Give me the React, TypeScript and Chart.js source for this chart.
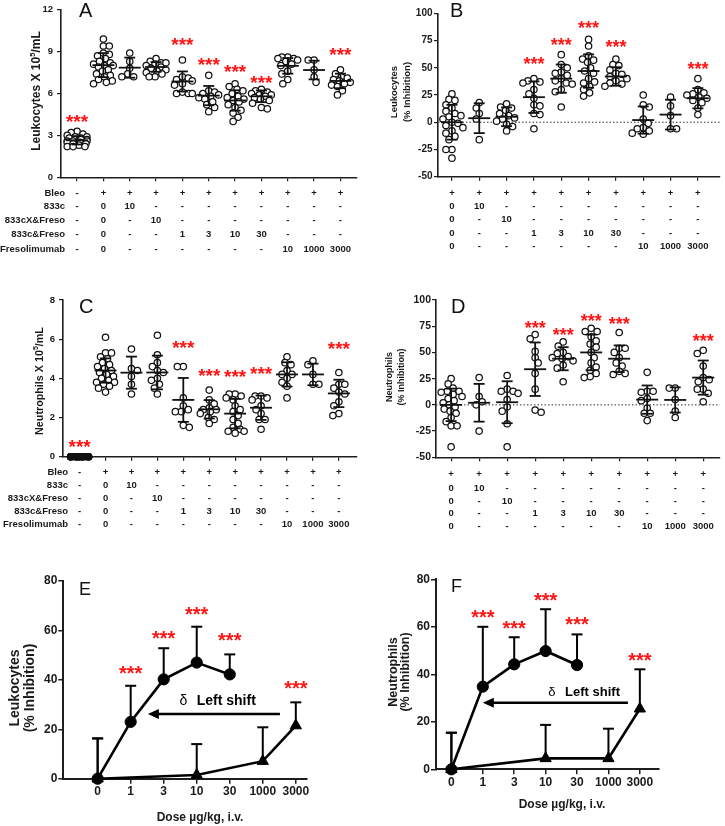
import React, { useEffect, useRef } from 'react';
import { Chart, registerables } from 'chart.js';

Chart.register(...registerables);

const FAMILY = 'Arial, "Liberation Sans", Helvetica, sans-serif';

// ---------------- DATA ----------------
// Table rows under panels A-D (first column = saline, no bleomycin)
const rowNames = ['Bleo', '833c', '833cX&Freso', '833c&Freso', 'Fresolimumab'];
const rowBleo = ['-', '+', '+', '+', '+', '+', '+', '+', '+', '+', '+'];
const row833c = ['-', '0', '10', '-', '-', '-', '-', '-', '-', '-', '-'];
const row833cX = ['-', '0', '-', '10', '-', '-', '-', '-', '-', '-', '-'];
const row833cFreso = ['-', '0', '-', '-', '1', '3', '10', '30', '-', '-', '-'];
const rowFreso = ['-', '0', '-', '-', '-', '-', '-', '-', '10', '1000', '3000'];

// Panel A: Leukocytes x10^5/mL
const leukCount: number[][] = [
  [3.3, 3.2, 3.1, 3.0, 2.9, 2.9, 2.8, 2.8, 2.7, 2.7, 2.7, 2.6, 2.6, 2.6, 2.5, 2.5, 2.4, 2.4, 2.3, 2.2, 2.2, 2.2],
  [9.9, 9.4, 9.4, 8.9, 8.8, 8.7, 8.5, 8.3, 8.2, 8.1, 8.0, 8.0, 7.9, 7.7, 7.6, 7.4, 7.3, 7.2, 7.0, 6.9, 6.8, 6.7],
  [8.9, 8.3, 7.8, 7.4, 7.2, 7.2],
  [8.5, 8.3, 8.2, 8.2, 8.1, 8.0, 7.9, 7.8, 7.7, 7.6, 7.5, 7.4, 7.2, 7.2],
  [8.4, 7.2, 7.1, 7.0, 6.9, 6.7, 6.6, 6.1, 6.0, 6.0, 6.0],
  [7.3, 6.2, 6.1, 6.0, 5.9, 5.8, 5.7, 5.6, 5.4, 5.2, 5.0, 4.7],
  [6.7, 6.5, 6.3, 6.2, 6.0, 5.8, 5.7, 5.6, 5.5, 5.4, 5.2, 5.0, 4.8, 4.6, 4.3, 4.0],
  [6.3, 6.2, 6.1, 6.0, 5.9, 5.9, 5.8, 5.7, 5.6, 5.5, 5.3, 5.0, 4.9],
  [8.6, 8.6, 8.5, 8.5, 8.4, 8.3, 8.1, 8.0, 7.6, 7.4, 7.0, 6.7],
  [8.4, 8.4, 7.7, 7.2, 6.8],
  [7.7, 7.4, 7.2, 7.1, 7.0, 6.9, 6.8, 6.7, 6.6, 6.5, 6.2, 5.9],
];
const leukCountMean = [2.65, 8.03, 7.85, 7.9, 6.86, 5.85, 5.5, 5.8, 7.98, 7.68, 6.9];
const leukCountSd = [0.3, 0.86, 0.72, 0.35, 0.72, 0.69, 0.73, 0.42, 0.56, 0.67, 0.52];
const leukCountStars: (number | null)[] = [4.2, null, null, null, 9.7, 8.3, 7.8, 7.0, null, null, 9.0];

// Panel B: Leukocytes % inhibition
const leukInhib: number[][] = [
  [26, 21, 20, 16, 13, 10, 8, 6, 5, 3, 0, -1, -3, -5, -8, -10, -13, -16, -25, -25, -33],
  [18, 13, 8, 3, -16],
  [17, 14, 13, 11, 8, 6, 4, 3, 1, -2, -4, -8],
  [40, 38, 37, 36, 30, 26, 22, 16, 15, 8, 7, -6],
  [62, 53, 50, 46, 45, 43, 40, 38, 36, 35, 30, 28, 14],
  [76, 70, 61, 58, 57, 55, 50, 47, 45, 40, 37, 36, 33, 30, 27, 24],
  [58, 53, 52, 48, 45, 44, 42, 40, 38, 36, 35, 33],
  [25, 16, 14, 3, -1, -5, -6, -8, -10, -11],
  [23, 15, 6, -6, -6],
  [40, 30, 27, 26, 25, 23, 22, 20, 18, 13, 7],
];
const leukInhibMean = [0, 3.7, 5, 23, 40, 47, 42, 2, 7, 22];
const leukInhibSd = [16, 13.7, 8.6, 14.5, 13, 15.3, 8.5, 12.5, 13.7, 9.3];
const leukInhibStars: (number | null)[] = [null, null, null, 56.5, 74, 90, 72, null, null, 52.5];

// Panel C: Neutrophils x10^5/mL
const neutCount: number[][] = [
  [0, 0, 0, 0, 0, 0, 0, 0, 0, 0, 0, 0, 0, 0, 0, 0, 0, 0, 0, 0],
  [6.1, 5.3, 5.3, 5.1, 5.0, 4.8, 4.7, 4.6, 4.5, 4.4, 4.3, 4.2, 4.1, 4.0, 3.9, 3.8, 3.8, 3.7, 3.6, 3.5, 3.3],
  [5.5, 4.5, 4.4, 4.1, 3.7, 3.2],
  [6.2, 5.2, 4.8, 4.6, 4.4, 4.3, 4.0, 3.9, 3.7, 3.5, 3.2],
  [4.6, 4.6, 3.0, 2.6, 2.4, 2.3, 2.3, 1.6, 1.5],
  [3.4, 2.9, 2.7, 2.5, 2.4, 2.4, 2.3, 2.2, 2.0, 1.9, 1.7],
  [3.2, 3.2, 3.1, 3.0, 2.9, 2.6, 2.4, 2.3, 2.1, 1.9, 1.7, 1.5, 1.4, 1.3, 1.3, 1.2],
  [3.1, 3.1, 3.0, 2.9, 2.6, 2.4, 2.2, 1.9, 1.9, 1.4],
  [5.1, 4.8, 4.7, 4.4, 4.2, 4.2, 4.0, 3.8, 3.6, 3.0],
  [4.9, 4.7, 4.2, 3.7, 3.7],
  [4.3, 3.7, 3.7, 3.5, 3.3, 3.2, 2.8, 2.6, 2.2, 2.1],
];
const neutCountMean = [0, 4.4, 4.29, 4.3, 2.9, 2.42, 2.2, 2.5, 4.2, 4.2, 3.23];
const neutCountSd = [0, 0.62, 0.82, 0.86, 1.12, 0.47, 0.75, 0.62, 0.62, 0.55, 0.7];
const neutCountStars: (number | null)[] = [0.68, null, null, null, 5.74, 4.29, 4.25, 4.4, null, null, 5.7];

// Panel D: Neutrophils % inhibition
const neutInhib: number[][] = [
  [25, 20, 16, 13, 13, 12, 10, 8, 6, 4, 2, 0, -2, -4, -6, -8, -12, -16, -20, -20, -40],
  [26, 8, 3, 0, -25],
  [28, 15, 13, 13, 11, 5, -2, -6, -18, -40],
  [67, 63, 51, 45, 40, 30, 15, -5, -7],
  [60, 56, 50, 49, 46, 45, 44, 42, 38, 35, 22],
  [73, 70, 70, 65, 61, 58, 55, 50, 45, 40, 36, 33, 30, 27, 26],
  [69, 54, 54, 50, 45, 40, 37, 32, 30, 29],
  [31, 13, 13, 12, 6, 4, -3, -8, -8, -15],
  [16, 16, 5, -6, -12],
  [52, 49, 37, 26, 24, 22, 15, 15, 11, 3],
];
const neutInhibMean = [0, 2, 2.5, 34, 44, 50, 44, 5, 4.7, 26];
const neutInhibSd = [15.5, 18, 20, 25.5, 11, 17, 12.7, 13.5, 12, 16.3];
const neutInhibStars: (number | null)[] = [null, null, null, 77, 70.4, 83.5, 80, null, null, 64.4];

// Panels E/F: dose response
const doseLabels = ['0', '1', '3', '10', '30', '1000', '3000'];
const comboDoses = ['0', '1', '3', '10', '30'];
const fresoDoses = ['0', '10', '1000', '3000'];
const starDoses = ['1', '3', '10', '30', '3000'];
const leukComboMean = [0, 23, 40.2, 47, 42.2];
const leukComboSd = [16.3, 14.6, 12.6, 14.5, 8.1];
const leukFresoMean = [0, 1.5, 7.1, 21.5];
const leukFresoSd = [16.3, 12.5, 13.7, 9.4];
const leukDoseStars = [44, 58.2, 68, 57.2, 37.9];
const neutComboMean = [0, 34.8, 44.2, 49.8, 43.9];
const neutComboSd = [15.4, 25.2, 11.4, 17.6, 12.9];
const neutFresoMean = [0, 4.6, 4.6, 25.5];
const neutFresoSd = [15.4, 14.1, 12.5, 16.6];
const neutDoseStars = [65.3, 60.8, 72.7, 62.6, 47.2];

// ---------------- TYPES ----------------
type Rect = { left: number; top: number; width: number; height: number };
type Area = { left: number; right: number; top: number; bottom: number };
type Seg = { t: string; sup?: boolean };
type TitleSpec = { lines: { x: number; segs: Seg[] }[]; y: number; size: number };

interface DotPanel {
  rect: Rect; area: Area;
  xMin: number; xMax: number; yMin: number; yMax: number; yStep: number;
  tickSize: number; tickPad: number;
  groups: number[][]; means: number[]; sds: number[]; stars: (number | null)[]; starSize: number;
  letter: string; letterX: number; letterY: number; letterSize: number;
  title: TitleSpec;
  cells: string[][]; headers: string[] | null; rowYs: number[]; headerRight: number; tableSize: number;
  zeroLine: boolean; maxHalf: number; fillZero: boolean;
}

interface Series { doses: string[]; means: number[]; sds: number[]; style: 'circle' | 'triangle' }
interface LinePanel {
  rect: Rect; area: Area; xMin: number; xMax: number; yMax: number; yStep: number;
  tickSize: number; series: Series[]; stars: number[]; starSize: number;
  arrow: { from: number; to: number; y: number }; delta: { x: number; y: number }; shift: { x: number; y: number }; shiftSize: number;
  letter: string; letterX: number; letterY: number; letterSize: number;
  title: TitleSpec; xTitle: { text: string; x: number; y: number; size: number };
}

// ---------------- HELPERS ----------------
function swarm(vals: number[], pxY: number, dot: number, maxHalf: number): number[] {
  const idx = vals.map((_, i) => i).sort((a, b) => vals[b] - vals[a]);
  const placed: { x: number; y: number }[] = [];
  const out = new Array(vals.length).fill(0);
  idx.forEach((i, n) => {
    const y = vals[i] * pxY;
    const cands: number[] = [0];
    for (let s = 1; s <= maxHalf; s++) n % 2 ? cands.push(-s, s) : cands.push(s, -s);
    let best = 0, bestScore = Infinity;
    for (const c of cands) {
      let ov = 0;
      for (const q of placed) {
        const d = Math.hypot(q.x - c, q.y - y);
        if (d < dot) ov += dot - d;
      }
      const score = ov * 40 + Math.abs(c);
      if (score < bestScore) { bestScore = score; best = c; }
      if (ov === 0) break;
    }
    placed.push({ x: best, y });
    out[i] = best;
  });
  return out;
}

function drawRich(ctx: CanvasRenderingContext2D, segs: Seg[], x: number, y: number, size: number, rotate: boolean) {
  ctx.save();
  ctx.translate(x, y);
  if (rotate) ctx.rotate(-Math.PI / 2);
  ctx.fillStyle = '#1a1a1a';
  ctx.textBaseline = 'middle';
  ctx.textAlign = 'left';
  const fN = `bold ${size}px ${FAMILY}`;
  const fS = `bold ${size * 0.65}px ${FAMILY}`;
  const ws = segs.map((s) => { ctx.font = s.sup ? fS : fN; return ctx.measureText(s.t).width; });
  let cx = -ws.reduce((a, b) => a + b, 0) / 2;
  segs.forEach((s, i) => {
    ctx.font = s.sup ? fS : fN;
    ctx.fillText(s.t, cx, s.sup ? -size * 0.38 : 0);
    cx += ws[i];
  });
  ctx.restore();
}

function drawStars(ctx: CanvasRenderingContext2D, x: number, yc: number, size: number) {
  ctx.save();
  ctx.font = `bold ${size}px ${FAMILY}`;
  ctx.fillStyle = '#ff1414';
  ctx.textAlign = 'center';
  ctx.textBaseline = 'alphabetic';
  const m = ctx.measureText('***');
  ctx.fillText('***', x, yc + (m.actualBoundingBoxAscent - m.actualBoundingBoxDescent) / 2);
  ctx.restore();
}

function drawLetter(ctx: CanvasRenderingContext2D, s: string, x: number, y: number, size: number) {
  ctx.save();
  ctx.font = `${size}px ${FAMILY}`;
  ctx.fillStyle = '#111';
  ctx.textAlign = 'left';
  ctx.textBaseline = 'alphabetic';
  ctx.fillText(s, x, y);
  ctx.restore();
}

function drawTitle(ctx: CanvasRenderingContext2D, t: TitleSpec, ox: number, oy: number) {
  t.lines.forEach((l) => drawRich(ctx, l.segs, l.x - ox, t.y - oy, t.size, true));
}

function seg(ctx: CanvasRenderingContext2D, x1: number, y1: number, x2: number, y2: number) {
  ctx.beginPath(); ctx.moveTo(x1, y1); ctx.lineTo(x2, y2); ctx.stroke();
}

const AXIS = '#1e1e1e';

// ---------------- CHART BUILDERS ----------------
function makeDotChart(canvas: HTMLCanvasElement, p: DotPanel) {
  const { rect, area } = p;
  const ox = rect.left, oy = rect.top;
  const pxX = (area.right - area.left) / (p.xMax - p.xMin);
  const pxY = (area.bottom - area.top) / (p.yMax - p.yMin);
  const pts: { x: number; y: number }[] = [];
  p.groups.forEach((vals, gi) => {
    const offs = swarm(vals, pxY, 6, p.maxHalf);
    vals.forEach((v, k) => pts.push({ x: gi + offs[k] / pxX, y: v }));
  });

  const plugin = {
    id: 'dotPanel',
    beforeDatasetsDraw(chart: any) {
      if (!p.zeroLine) return;
      const ctx = chart.ctx, ys = chart.scales.y, ca = chart.chartArea;
      ctx.save();
      ctx.strokeStyle = '#333';
      ctx.lineWidth = 1;
      ctx.setLineDash([1.5, 2]);
      const y0 = ys.getPixelForValue(0);
      seg(ctx, ca.left, y0, ca.right, y0);
      ctx.restore();
    },
    afterDatasetsDraw(chart: any) {
      const ctx = chart.ctx, xs = chart.scales.x, ys = chart.scales.y;
      ctx.save();
      ctx.strokeStyle = '#111';
      ctx.lineWidth = 1.8;
      p.means.forEach((m, i) => {
        const cx = xs.getPixelForValue(i);
        const my = ys.getPixelForValue(m);
        const t = ys.getPixelForValue(m + p.sds[i]);
        const b = ys.getPixelForValue(m - p.sds[i]);
        seg(ctx, cx - 11, my, cx + 11, my);
        if (p.sds[i] > 0) {
          seg(ctx, cx, t, cx, b);
          seg(ctx, cx - 5.5, t, cx + 5.5, t);
          seg(ctx, cx - 5.5, b, cx + 5.5, b);
        }
      });
      ctx.restore();
    },
    afterDraw(chart: any) {
      const ctx = chart.ctx, xs = chart.scales.x, ys = chart.scales.y;
      p.stars.forEach((s, i) => { if (s !== null) drawStars(ctx, xs.getPixelForValue(i), ys.getPixelForValue(s), p.starSize); });
      drawLetter(ctx, p.letter, p.letterX - ox, p.letterY - oy, p.letterSize);
      drawTitle(ctx, p.title, ox, oy);
      ctx.save();
      ctx.font = `bold ${p.tableSize}px ${FAMILY}`;
      ctx.fillStyle = '#1a1a1a';
      ctx.textBaseline = 'middle';
      p.cells.forEach((row, r) => {
        const y = p.rowYs[r] - oy;
        ctx.textAlign = 'center';
        row.forEach((c, i) => ctx.fillText(c, xs.getPixelForValue(i), y));
        if (p.headers) {
          ctx.textAlign = 'right';
          ctx.fillText(p.headers[r], p.headerRight - ox, y);
        }
      });
      ctx.restore();
    },
  };

  return new Chart(canvas, {
    type: 'scatter',
    data: {
      datasets: [{
        data: pts,
        pointRadius: 3.2,
        pointBorderWidth: 1.25,
        borderColor: '#111',
        backgroundColor: (c: any) => (p.fillZero && c.raw && c.raw.y === 0 ? '#111' : '#fff'),
        clip: false as any,
      }],
    },
    options: {
      animation: false,
      responsive: false,
      maintainAspectRatio: false,
      events: [],
      layout: { padding: { left: 0, top: area.top - oy, right: ox + rect.width - area.right, bottom: 0 } },
      plugins: { legend: { display: false }, tooltip: { enabled: false } },
      scales: {
        x: {
          type: 'linear', min: p.xMin, max: p.xMax,
          afterFit: (s: any) => { s.height = oy + rect.height - area.bottom; },
          afterBuildTicks: (s: any) => { s.ticks = p.groups.map((_, i) => ({ value: i })); },
          ticks: { display: false },
          grid: { display: true, drawOnChartArea: false, drawTicks: true, tickLength: 4, color: AXIS, lineWidth: 1.2 },
          border: { display: true, color: AXIS, width: 1.6 },
        },
        y: {
          type: 'linear', min: p.yMin, max: p.yMax,
          afterFit: (s: any) => { s.width = area.left - ox; },
          ticks: { stepSize: p.yStep, font: { family: FAMILY, size: p.tickSize, weight: 'bold' }, color: '#1a1a1a', padding: p.tickPad },
          grid: { display: true, drawOnChartArea: false, drawTicks: true, tickLength: 4, color: AXIS, lineWidth: 1.2 },
          border: { display: true, color: AXIS, width: 1.6 },
        },
      },
    } as any,
    plugins: [plugin],
  });
}

function makeLineChart(canvas: HTMLCanvasElement, p: LinePanel) {
  const { rect, area } = p;
  const ox = rect.left, oy = rect.top;
  const plugin = {
    id: 'linePanel',
    beforeDatasetsDraw(chart: any) {
      const ctx = chart.ctx, xs = chart.scales.x, ys = chart.scales.y;
      ctx.save();
      ctx.strokeStyle = '#000';
      ctx.lineWidth = 2;
      p.series.forEach((s) => s.doses.forEach((d, k) => {
        const cx = xs.getPixelForValue(doseLabels.indexOf(d));
        const y1 = ys.getPixelForValue(s.means[k]);
        const y2 = ys.getPixelForValue(s.means[k] + s.sds[k]);
        seg(ctx, cx, y1, cx, y2);
        seg(ctx, cx - 5.5, y2, cx + 5.5, y2);
      }));
      ctx.restore();
    },
    afterDraw(chart: any) {
      const ctx = chart.ctx, xs = chart.scales.x, ys = chart.scales.y;
      starDoses.forEach((d, i) => drawStars(ctx, xs.getPixelForValue(doseLabels.indexOf(d)), ys.getPixelForValue(p.stars[i]), p.starSize));
      // arrow
      const ay = ys.getPixelForValue(p.arrow.y);
      const x1 = xs.getPixelForValue(p.arrow.from), x2 = xs.getPixelForValue(p.arrow.to);
      ctx.save();
      ctx.strokeStyle = '#000';
      ctx.fillStyle = '#000';
      ctx.lineWidth = 2.5;
      seg(ctx, x1, ay, x2 + 8, ay);
      ctx.beginPath();
      ctx.moveTo(x2, ay);
      ctx.lineTo(x2 + 11, ay - 5);
      ctx.lineTo(x2 + 11, ay + 5);
      ctx.closePath();
      ctx.fill();
      ctx.textBaseline = 'middle';
      ctx.textAlign = 'center';
      ctx.font = `${p.shiftSize}px ${FAMILY}`;
      ctx.fillText('δ', xs.getPixelForValue(p.delta.x), ys.getPixelForValue(p.delta.y));
      ctx.textAlign = 'left';
      ctx.font = `bold ${p.shiftSize}px ${FAMILY}`;
      ctx.fillText('Left shift', xs.getPixelForValue(p.shift.x), ys.getPixelForValue(p.shift.y));
      ctx.restore();
      drawLetter(ctx, p.letter, p.letterX - ox, p.letterY - oy, p.letterSize);
      drawTitle(ctx, p.title, ox, oy);
      drawRich(ctx, [{ t: p.xTitle.text }], p.xTitle.x - ox, p.xTitle.y - oy, p.xTitle.size, false);
    },
  };

  return new Chart(canvas, {
    type: 'scatter',
    data: {
      datasets: p.series.map((s) => ({
        data: s.doses.map((d, k) => ({ x: doseLabels.indexOf(d), y: s.means[k] })),
        showLine: true,
        borderColor: '#000',
        borderWidth: 2.6,
        pointStyle: s.style,
        pointRadius: s.style === 'triangle' ? 6.5 : 5.6,
        pointBackgroundColor: '#000',
        pointBorderColor: '#000',
        pointBorderWidth: 1,
        clip: false as any,
      })),
    },
    options: {
      animation: false,
      responsive: false,
      maintainAspectRatio: false,
      events: [],
      layout: { padding: { left: 0, top: area.top - oy, right: ox + rect.width - area.right, bottom: 0 } },
      plugins: { legend: { display: false }, tooltip: { enabled: false } },
      scales: {
        x: {
          type: 'linear', min: p.xMin, max: p.xMax,
          afterFit: (s: any) => { s.height = oy + rect.height - area.bottom; },
          afterBuildTicks: (s: any) => { s.ticks = doseLabels.map((_, i) => ({ value: i })); },
          ticks: {
            callback: (v: any) => doseLabels[v as number],
            autoSkip: false, maxRotation: 0, padding: 1,
            font: { family: FAMILY, size: p.tickSize, weight: 'bold' }, color: '#1a1a1a',
          },
          grid: { display: true, drawOnChartArea: false, drawTicks: true, tickLength: 5, color: AXIS, lineWidth: 1.5 },
          border: { display: true, color: AXIS, width: 2 },
        },
        y: {
          type: 'linear', min: 0, max: p.yMax,
          afterFit: (s: any) => { s.width = area.left - ox; },
          ticks: { stepSize: p.yStep, font: { family: FAMILY, size: p.tickSize, weight: 'bold' }, color: '#1a1a1a', padding: 1 },
          grid: { display: true, drawOnChartArea: false, drawTicks: true, tickLength: 5, color: AXIS, lineWidth: 1.5 },
          border: { display: true, color: AXIS, width: 2 },
        },
      },
    } as any,
    plugins: [plugin],
  });
}

// ---------------- PANEL CONFIGS ----------------
const fullCells = [rowBleo, row833c, row833cX, row833cFreso, rowFreso];
const shortCells = fullCells.map((r) => r.slice(1));

const dotPanels: DotPanel[] = [
  {
    rect: { left: 0, top: 0, width: 362, height: 280 }, area: { left: 61, right: 362, top: 7, bottom: 177.3 },
    xMin: -0.61, xMax: 10.62, yMin: 0, yMax: 12, yStep: 3, tickSize: 9.5, tickPad: 4,
    groups: leukCount, means: leukCountMean, sds: leukCountSd, stars: leukCountStars, starSize: 19,
    letter: 'A', letterX: 79, letterY: 17, letterSize: 20,
    title: { lines: [{ x: 37, segs: [{ t: 'Leukocytes X 10' }, { t: '5', sup: true }, { t: '/mL' }] }], y: 91, size: 12 },
    cells: fullCells, headers: rowNames, rowYs: [193.3, 206.7, 220.2, 234.7, 249], headerRight: 65, tableSize: 9.5,
    zeroLine: false, maxHalf: 10, fillZero: false,
  },
  {
    rect: { left: 362, top: 0, width: 363, height: 280 }, area: { left: 438, right: 720, top: 13.3, bottom: 176.7 },
    xMin: -0.51, xMax: 9.8, yMin: -50, yMax: 100, yStep: 25, tickSize: 10, tickPad: 1.5,
    groups: leukInhib, means: leukInhibMean, sds: leukInhibSd, stars: leukInhibStars, starSize: 18,
    letter: 'B', letterX: 450, letterY: 17, letterSize: 20,
    title: { lines: [{ x: 394, segs: [{ t: 'Leukocytes' }] }, { x: 407, segs: [{ t: '(% Inhibition)' }] }], y: 92, size: 9.5 },
    cells: shortCells, headers: null, rowYs: [193.3, 206.5, 219.5, 233, 246], headerRight: 0, tableSize: 9.5,
    zeroLine: true, maxHalf: 11, fillZero: false,
  },
  {
    rect: { left: 0, top: 280, width: 362, height: 290 }, area: { left: 63, right: 358, top: 300, bottom: 456.7 },
    xMin: -0.64, xMax: 10.69, yMin: 0, yMax: 8, yStep: 2, tickSize: 9.5, tickPad: 4,
    groups: neutCount, means: neutCountMean, sds: neutCountSd, stars: neutCountStars, starSize: 19,
    letter: 'C', letterX: 79, letterY: 313, letterSize: 20,
    title: { lines: [{ x: 40, segs: [{ t: 'Neutrophils X 10' }, { t: '5', sup: true }, { t: '/mL' }] }], y: 381, size: 10.75 },
    cells: fullCells, headers: rowNames, rowYs: [472.3, 485.3, 498.3, 511.3, 524.5], headerRight: 68, tableSize: 9.5,
    zeroLine: false, maxHalf: 9, fillZero: true,
  },
  {
    rect: { left: 362, top: 280, width: 363, height: 290 }, area: { left: 436, right: 722, top: 300, bottom: 457.3 },
    xMin: -0.54, xMax: 9.59, yMin: -50, yMax: 100, yStep: 25, tickSize: 10.5, tickPad: 1,
    groups: neutInhib, means: neutInhibMean, sds: neutInhibSd, stars: neutInhibStars, starSize: 18,
    letter: 'D', letterX: 451, letterY: 313, letterSize: 20,
    title: { lines: [{ x: 390, segs: [{ t: 'Neutrophils' }] }, { x: 402, segs: [{ t: '(% Inhibition)' }] }], y: 377, size: 9 },
    cells: shortCells, headers: null, rowYs: [474.3, 488, 501, 513.5, 526.5], headerRight: 0, tableSize: 9.5,
    zeroLine: true, maxHalf: 11, fillZero: false,
  },
];

const linePanels: LinePanel[] = [
  {
    rect: { left: 0, top: 570, width: 362, height: 256 }, area: { left: 63.3, right: 306.7, top: 581, bottom: 778.7 },
    xMin: -1.04, xMax: 6.33, yMax: 80, yStep: 20, tickSize: 12,
    series: [
      { doses: comboDoses, means: leukComboMean, sds: leukComboSd, style: 'circle' },
      { doses: fresoDoses, means: leukFresoMean, sds: leukFresoSd, style: 'triangle' },
    ],
    stars: leukDoseStars, starSize: 20,
    arrow: { from: 5.52, to: 1.52, y: 26.2 }, delta: { x: 2.6, y: 31.2 }, shift: { x: 3.0, y: 31.2 }, shiftSize: 14,
    letter: 'E', letterX: 79, letterY: 595, letterSize: 18,
    title: { lines: [{ x: 15, segs: [{ t: 'Leukocytes' }] }, { x: 30, segs: [{ t: '(% Inhibition)' }] }], y: 688, size: 14 },
    xTitle: { text: 'Dose µg/kg, i.v.', x: 200, y: 818, size: 12 },
  },
  {
    rect: { left: 362, top: 570, width: 363, height: 256 }, area: { left: 436, right: 658.7, top: 579.3, bottom: 769.3 },
    xMin: -0.49, xMax: 6.6, yMax: 80, yStep: 20, tickSize: 12,
    series: [
      { doses: comboDoses, means: neutComboMean, sds: neutComboSd, style: 'circle' },
      { doses: fresoDoses, means: neutFresoMean, sds: neutFresoSd, style: 'triangle' },
    ],
    stars: neutDoseStars, starSize: 20,
    arrow: { from: 5.62, to: 1.0, y: 28 }, delta: { x: 3.2, y: 32.5 }, shift: { x: 3.62, y: 32.5 }, shiftSize: 13,
    letter: 'F', letterX: 451, letterY: 592, letterSize: 18,
    title: { lines: [{ x: 394, segs: [{ t: 'Neutrophils' }] }, { x: 406, segs: [{ t: '(% Inhibition)' }] }], y: 672, size: 12.5 },
    xTitle: { text: 'Dose µg/kg, i.v.', x: 562, y: 805, size: 12 },
  },
];

// ---------------- COMPONENTS ----------------
function DotChart({ p }: { p: DotPanel }) {
  const ref = useRef<HTMLCanvasElement>(null);
  useEffect(() => {
    const chart = makeDotChart(ref.current as HTMLCanvasElement, p);
    return () => chart.destroy();
  }, [p]);
  const r = p.rect;
  return <canvas ref={ref} width={r.width} height={r.height}
    style={{ position: 'absolute', left: r.left, top: r.top, width: r.width, height: r.height }} />;
}

function LineChart({ p }: { p: LinePanel }) {
  const ref = useRef<HTMLCanvasElement>(null);
  useEffect(() => {
    const chart = makeLineChart(ref.current as HTMLCanvasElement, p);
    return () => chart.destroy();
  }, [p]);
  const r = p.rect;
  return <canvas ref={ref} width={r.width} height={r.height}
    style={{ position: 'absolute', left: r.left, top: r.top, width: r.width, height: r.height }} />;
}

export default function App() {
  return (
    <div style={{ position: 'absolute', left: 0, top: 0, width: 725, height: 826, background: '#fff', overflow: 'hidden' }}>
      {dotPanels.map((p, i) => <DotChart key={'d' + i} p={p} />)}
      {linePanels.map((p, i) => <LineChart key={'l' + i} p={p} />)}
    </div>
  );
}
